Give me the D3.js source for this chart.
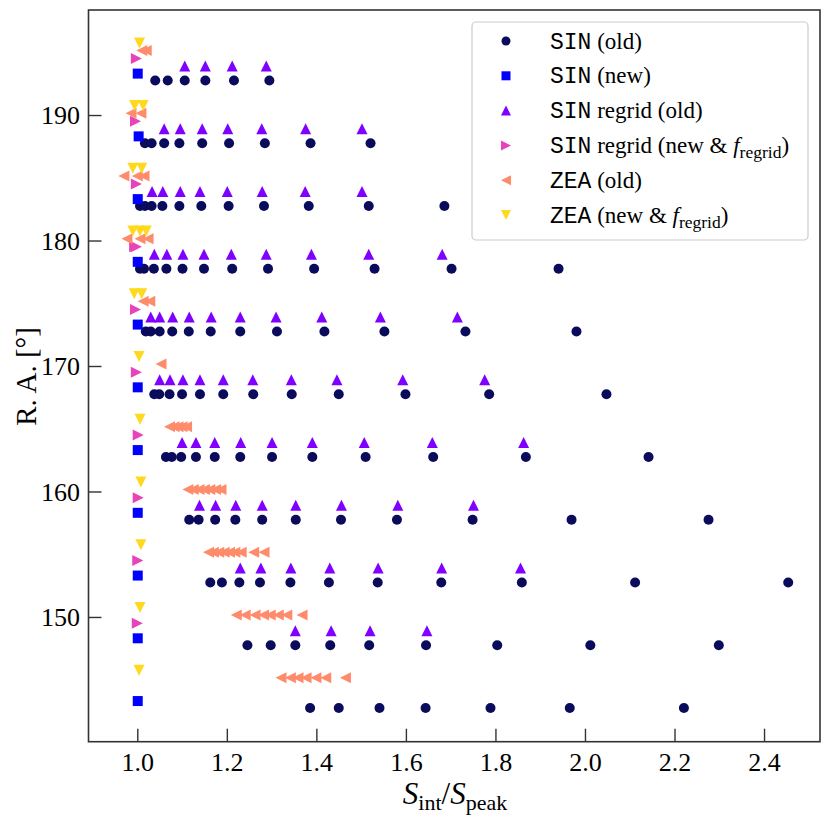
<!DOCTYPE html>
<html>
<head>
<meta charset="utf-8">
<script src="https://cdn.jsdelivr.net/npm/d3@7"></script>
<style>
  html, body { margin: 0; padding: 0; background: #fff; }
  svg { display: block; }
</style>
</head>
<body>
<svg id="chart" width="830" height="817"></svg>
<script>
// ---------------- data ----------------
// SIN (old) : circles
const sinOldRA = [192.75, 187.75, 182.75, 177.75, 172.75, 167.75, 162.75, 157.75, 152.75, 147.75, 142.75];
const sinOldX = [
  [1.040, 1.068, 1.106, 1.152, 1.216, 1.295],
  [1.017, 1.032, 1.060, 1.094, 1.145, 1.205, 1.285, 1.387, 1.521],
  [1.006, 1.017, 1.032, 1.056, 1.094, 1.143, 1.204, 1.283, 1.383, 1.517, 1.686],
  [1.006, 1.015, 1.037, 1.065, 1.101, 1.149, 1.212, 1.292, 1.395, 1.530, 1.702, 1.941],
  [1.019, 1.030, 1.050, 1.078, 1.115, 1.164, 1.230, 1.312, 1.418, 1.552, 1.733, 1.981],
  [1.038, 1.049, 1.072, 1.100, 1.140, 1.192, 1.259, 1.345, 1.450, 1.599, 1.786, 2.048],
  [1.064, 1.077, 1.098, 1.131, 1.173, 1.230, 1.301, 1.391, 1.510, 1.661, 1.868, 2.142],
  [1.116, 1.137, 1.174, 1.219, 1.279, 1.354, 1.455, 1.580, 1.749, 1.970, 2.276],
  [1.163, 1.189, 1.228, 1.274, 1.342, 1.428, 1.537, 1.679, 1.859, 2.112, 2.454],
  [1.246, 1.298, 1.353, 1.431, 1.518, 1.645, 1.804, 2.012, 2.299],
  [1.386, 1.450, 1.541, 1.644, 1.789, 1.966, 2.221]
];
// SIN (new) : squares
const sinNewRA = [193.3, 188.3, 183.3, 178.3, 173.3, 168.3, 163.3, 158.3, 153.3, 148.3, 143.3];
const sinNewX = [[1.001], [1.003], [1.001], [1.001], [1.001], [1.001], [1.001], [1.001], [1.001], [1.001], [1.001]];
// SIN regrid (old) : up triangles
const sinRegOldRA = [193.9, 188.9, 183.9, 178.9, 173.9, 168.9, 163.9, 158.9, 153.9, 148.9];
const sinRegOldX = [
  [1.106, 1.152, 1.212, 1.288],
  [1.060, 1.096, 1.145, 1.202, 1.278, 1.376, 1.502],
  [1.033, 1.057, 1.096, 1.140, 1.201, 1.279, 1.375, 1.502],
  [1.038, 1.066, 1.102, 1.149, 1.210, 1.288, 1.389, 1.517, 1.681],
  [1.030, 1.050, 1.079, 1.116, 1.165, 1.230, 1.310, 1.412, 1.543, 1.715],
  [1.050, 1.073, 1.102, 1.140, 1.192, 1.258, 1.344, 1.446, 1.593, 1.776],
  [1.100, 1.131, 1.173, 1.231, 1.301, 1.391, 1.507, 1.659, 1.863],
  [1.139, 1.175, 1.220, 1.279, 1.354, 1.456, 1.582, 1.751],
  [1.230, 1.276, 1.343, 1.430, 1.538, 1.680, 1.856],
  [1.353, 1.433, 1.520, 1.647]
];
// SIN regrid (new & f_regrid) : right triangles
const sinRegNewRA = [194.5, 189.5, 184.5, 179.5, 174.5, 169.5, 164.5, 159.5, 154.5, 149.5];
const sinRegNewX = [[0.998], [0.996], [0.998], [0.994, 0.998], [0.996], [0.998], [1.002], [1.002], [1.001], [1.000]];
// ZEA (old) : left triangles
const zeaOldRA = [195.15, 190.15, 185.15, 180.15, 175.15, 170.15, 165.15, 160.15, 155.15, 150.15, 145.15];
const zeaOldX = [
  [1.010, 1.020],
  [0.986, 1.008],
  [0.970, 1.000, 1.015],
  [0.977, 1.006, 1.024],
  [1.013, 1.028],
  [1.053],
  [1.072, 1.082, 1.091, 1.100, 1.110],
  [1.113, 1.125, 1.138, 1.150, 1.162, 1.175, 1.187],
  [1.159, 1.170, 1.182, 1.194, 1.206, 1.218, 1.232, 1.260, 1.283],
  [1.221, 1.241, 1.263, 1.282, 1.297, 1.315, 1.334, 1.368],
  [1.321, 1.342, 1.359, 1.377, 1.399, 1.421, 1.465]
];
// ZEA (new & f_regrid) : down triangles
const zeaNewRA = [195.75, 190.75, 185.75, 180.75, 175.75, 170.75, 165.75, 160.75, 155.75, 150.75, 145.75];
const zeaNewX = [[1.005], [0.994, 1.013], [0.990, 1.010], [0.990, 1.006, 1.020], [0.993, 1.010], [1.004], [1.006], [1.008], [1.008], [1.006], [1.004]];

const xTicks = [1.0, 1.2, 1.4, 1.6, 1.8, 2.0, 2.2, 2.4];
const yTicks = [150, 160, 170, 180, 190];

const seriesDefs = [
  { mono: "SIN", rest: " (old)", sub: null, ra: sinOldRA, xs: sinOldX, shape: "circle", color: "#0b0b5c" },
  { mono: "SIN", rest: " (new)", sub: null, ra: sinNewRA, xs: sinNewX, shape: "square", color: "#0000ff" },
  { mono: "SIN", rest: " regrid (old)", sub: null, ra: sinRegOldRA, xs: sinRegOldX, shape: "up", color: "#8000ff" },
  { mono: "SIN", rest: " regrid (new & ", sub: true, ra: sinRegNewRA, xs: sinRegNewX, shape: "right", color: "#e843b9" },
  { mono: "ZEA", rest: " (old)", sub: null, ra: zeaOldRA, xs: zeaOldX, shape: "left", color: "#fe8c6c" },
  { mono: "ZEA", rest: " (new & ", sub: true, ra: zeaNewRA, xs: zeaNewX, shape: "down", color: "#fed91e" }
];

// ---------------- layout ----------------
const L = 88.5, R = 820, T = 10, B = 741.7;
const x = d3.scaleLinear().domain([0.891, 2.525]).range([L, R]);
const y = d3.scaleLinear().domain([140.06, 198.37]).range([B, T]);

const svg = d3.select("#chart");
const serif = "'Liberation Serif', 'DejaVu Serif', serif";
const mono = "'Liberation Mono', 'DejaVu Sans Mono', monospace";

function shapePath(shape, s) {
  const h = s / 2;
  switch (shape) {
    case "circle": return d3.symbol(d3.symbolCircle, Math.PI * h * h)();
    case "square": return `M${-h},${-h}H${h}V${h}H${-h}Z`;
    case "up": return `M0,${-h}L${h},${h}L${-h},${h}Z`;
    case "down": return `M0,${h}L${h},${-h}L${-h},${-h}Z`;
    case "right": return `M${h},0L${-h},${h}L${-h},${-h}Z`;
    case "left": return `M${-h},0L${h},${h}L${h},${-h}Z`;
  }
}
const markerSize = { circle: 10, square: 10, up: 11, down: 11, right: 11, left: 11 };

// points
const plot = svg.append("g");
seriesDefs.forEach(sd => {
  const pts = [];
  sd.ra.forEach((ra, i) => sd.xs[i].forEach(v => pts.push({ x: v, y: ra })));
  plot.append("g").selectAll("path").data(pts).join("path")
    .attr("d", shapePath(sd.shape, markerSize[sd.shape]))
    .attr("transform", d => `translate(${x(d.x)},${y(d.y)})`)
    .attr("fill", sd.color);
});

// axes
const axisColor = "#333";
const gx = svg.append("g").attr("transform", `translate(0,${B})`)
  .call(d3.axisBottom(x).tickValues(xTicks).tickFormat(d3.format(".1f")).tickSizeInner(-13).tickSizeOuter(0));
const gy = svg.append("g").attr("transform", `translate(${L},0)`)
  .call(d3.axisLeft(y).tickValues(yTicks).tickFormat(d3.format("d")).tickSizeInner(-13).tickSizeOuter(0));
[gx, gy].forEach(g => {
  g.attr("font-family", serif);
  g.select(".domain").remove();
  g.selectAll(".tick line").attr("stroke", axisColor).attr("stroke-width", 1.4);
  g.selectAll(".tick text").attr("font-family", serif).attr("font-size", 26).attr("fill", "#000");
});
gx.selectAll(".tick text").attr("dy", "0.71em").attr("y", 11);
gy.selectAll(".tick text").attr("x", -8.5).attr("dy", "0.34em");

// frame
svg.append("rect").attr("x", L).attr("y", T).attr("width", R - L).attr("height", B - T)
  .attr("fill", "none").attr("stroke", axisColor).attr("stroke-width", 1.6);

// axis labels
const xl = svg.append("text").attr("x", 455).attr("y", 804).attr("text-anchor", "middle")
  .attr("font-family", serif).attr("font-size", 31).attr("fill", "#000");
xl.append("tspan").attr("font-style", "italic").text("S");
xl.append("tspan").attr("font-size", 22).attr("dy", 6).text("int");
xl.append("tspan").attr("dy", -6).text("/");
xl.append("tspan").attr("font-style", "italic").text("S");
xl.append("tspan").attr("font-size", 22).attr("dy", 6).text("peak");

svg.append("text").attr("transform", `translate(36,376.5) rotate(-90)`)
  .attr("text-anchor", "middle").attr("font-family", serif).attr("font-size", 29).attr("fill", "#000")
  .text("R. A. [°]");

// legend
const lg = svg.append("g");
lg.append("rect").attr("x", 472).attr("y", 22).attr("width", 336).attr("height", 218)
  .attr("rx", 4).attr("fill", "#fff").attr("fill-opacity", 0.8).attr("stroke", "#cccccc").attr("stroke-width", 1.2);
seriesDefs.forEach((sd, i) => {
  const cy = 41 + i * 34.8;
  lg.append("path").attr("d", shapePath(sd.shape, markerSize[sd.shape] - 1))
    .attr("transform", `translate(506,${cy})`).attr("fill", sd.color);
  const t = lg.append("text").attr("x", 550).attr("y", cy + 7.5)
    .attr("font-family", serif).attr("font-size", 23).attr("fill", "#000");
  t.append("tspan").attr("font-family", mono).text(sd.mono);
  t.append("tspan").text(sd.rest);
  if (sd.sub) {
    t.append("tspan").attr("font-style", "italic").text("f");
    t.append("tspan").attr("font-size", 17.5).attr("dy", 5).text("regrid");
    t.append("tspan").attr("dy", -5).text(")");
  }
});
</script>
</body>
</html>
